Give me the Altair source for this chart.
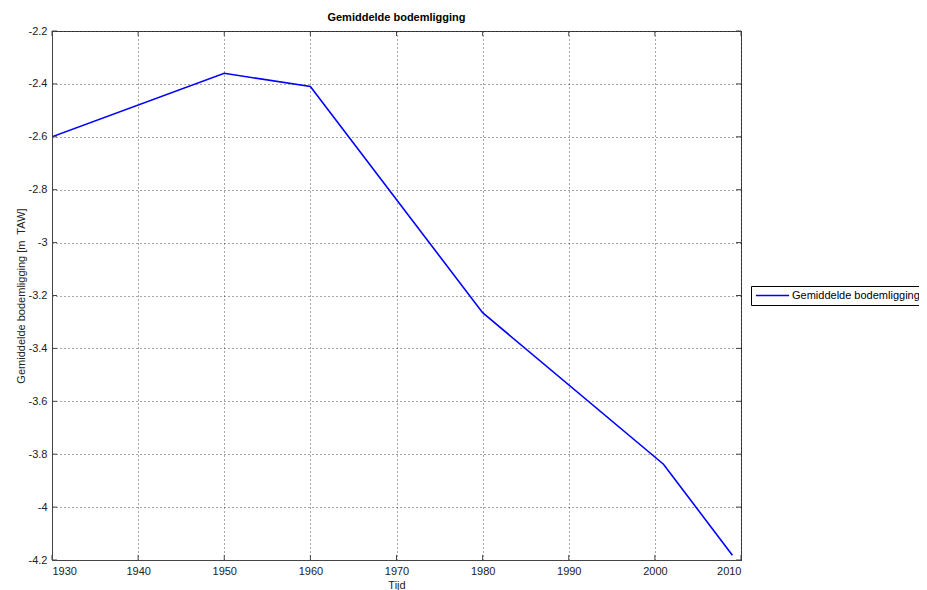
import altair as alt
import pandas as pd

years = [1930, 1950, 1960, 1980, 2001, 2009]
depth = [-2.60, -2.36, -2.41, -3.265, -3.838, -4.182]
x_ticks = [1930, 1940, 1950, 1960, 1970, 1980, 1990, 2000, 2010]
y_ticks = [-4.2, -4.0, -3.8, -3.6, -3.4, -3.2, -3.0, -2.8, -2.6, -2.4, -2.2]
series_name = "Gemiddelde bodemligging"

df = pd.DataFrame({"Tijd": years, "depth": depth, "serie": [series_name] * len(years)})
xt = pd.DataFrame({"v": x_ticks})
yt = pd.DataFrame({"v": y_ticks})

W, H = 689, 529
FONT = "Liberation Sans"
xscale = alt.Scale(domain=[1930, 2010], nice=False, zero=False)
yscale = alt.Scale(domain=[-4.2, -2.2], nice=False, zero=False)
XT = "Tijd"
YT = "Gemiddelde bodemligging [m\u00a0 TAW]"

xaxis = alt.Axis(values=x_ticks, format="d", title=XT, grid=True, gridDash=[1, 3],
                 gridColor="#000", gridOpacity=0.7, ticks=False, labelPadding=5,
                 titlePadding=3, domainColor="#444")
yaxis = alt.Axis(values=y_ticks, title=YT, grid=True, gridDash=[1, 3],
                 labelExpr="replace(format(datum.value, '~g'), '\u2212', '-')",
                 gridColor="#000", gridOpacity=0.7, ticks=False, labelPadding=5,
                 titlePadding=2, domainColor="#444")

line = alt.Chart(df).mark_line(strokeWidth=1.6, clip=True).encode(
    x=alt.X("Tijd:Q", scale=xscale, axis=xaxis),
    y=alt.Y("depth:Q", scale=yscale, axis=yaxis),
    color=alt.Color("serie:N", scale=alt.Scale(range=["#0000ff"]),
                    legend=alt.Legend(title=None, orient="none", legendX=699, legendY=255,
                                      strokeColor="#000", fillColor="#fff", padding=4,
                                      symbolType="stroke", symbolStrokeWidth=1.6,
                                      symbolSize=1100, clipHeight=11, labelOffset=2,
                                      labelFont=FONT, labelFontSize=11,
                                      labelColor="#000", cornerRadius=0)),
)

tc = "#444"
bottom = alt.Chart(xt).mark_rule(color=tc).encode(
    x=alt.X("v:Q", scale=xscale, title=XT), y=alt.value(H), y2=alt.value(H - 5))
top = alt.Chart(xt).mark_rule(color=tc).encode(
    x=alt.X("v:Q", scale=xscale, title=XT), y=alt.value(0), y2=alt.value(5))
left = alt.Chart(yt).mark_rule(color=tc).encode(
    y=alt.Y("v:Q", scale=yscale, title=YT), x=alt.value(0), x2=alt.value(5))
right = alt.Chart(yt).mark_rule(color=tc).encode(
    y=alt.Y("v:Q", scale=yscale, title=YT), x=alt.value(W), x2=alt.value(W - 5))

chart = alt.layer(line, bottom, top, left, right).properties(
    width=W, height=H,
    title=alt.TitleParams(series_name, font=FONT, fontSize=11, fontWeight="bold",
                          anchor="middle", offset=2, color="#000"),
    autosize=alt.AutoSizeParams(type="none"),
    padding={"left": 44, "top": 23, "right": 178, "bottom": 30},
).configure_view(stroke="#444").configure_axis(
    labelFont=FONT, labelFontSize=11, labelColor="#222",
    titleFont=FONT, titleFontSize=11, titleColor="#222", titleFontWeight="normal"
)

chart.save("out.html", embed_options={"renderer": "svg", "actions": False})
